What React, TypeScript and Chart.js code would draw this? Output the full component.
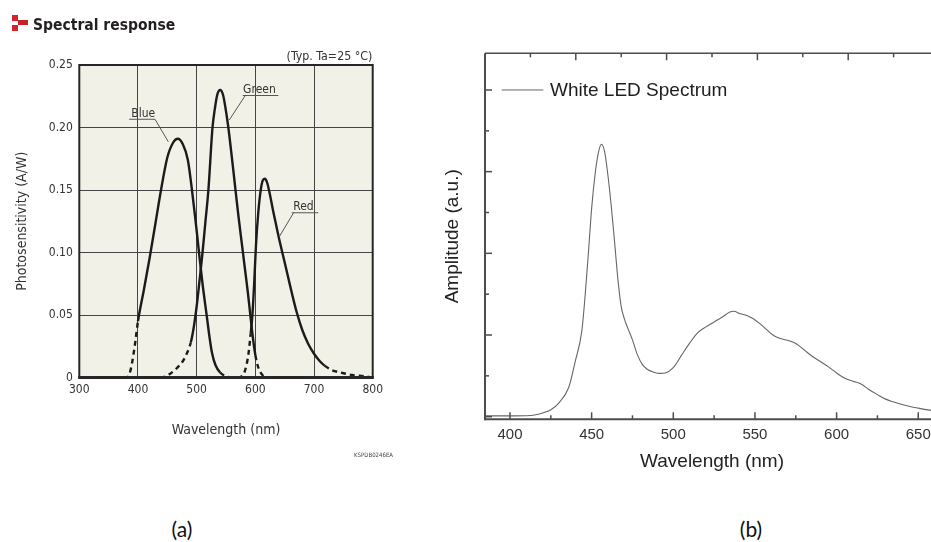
import React, { useEffect, useRef } from "react";
import { Chart, registerables } from "chart.js";

Chart.register(...registerables);

// ---------- (a) photodiode spectral response ----------
const responseWavelengthTicks = [300, 400, 500, 600, 700, 800];
const responseTicks = [0, 0.05, 0.1, 0.15, 0.2, 0.25];

const blueWavelength = [300, 380, 385, 390, 395, 400, 410, 420, 430, 440, 450, 460, 468, 476, 485, 492, 498, 504, 510, 517, 522, 526, 532, 540, 550, 562];
const blueResponse = [0, 0, 0.002, 0.012, 0.027, 0.045, 0.07, 0.096, 0.124, 0.152, 0.176, 0.188, 0.191, 0.187, 0.174, 0.15, 0.126, 0.1, 0.075, 0.05, 0.032, 0.02, 0.01, 0.004, 0.001, 0];
const blueSolidRange = [400, 540];

const greenWavelength = [300, 440, 455, 465, 475, 483, 490, 495, 500, 505, 510, 515, 520, 527, 531, 535, 540, 545, 549, 554, 560, 565, 571, 577, 582, 587, 591, 595, 600, 605, 612, 622];
const greenResponse = [0, 0, 0.003, 0.007, 0.012, 0.019, 0.028, 0.04, 0.057, 0.078, 0.1, 0.125, 0.15, 0.2, 0.215, 0.226, 0.23, 0.226, 0.216, 0.2, 0.176, 0.155, 0.13, 0.107, 0.088, 0.069, 0.052, 0.035, 0.018, 0.008, 0.002, 0];
const greenSolidRange = [490, 600];

const redWavelength = [555, 570, 577, 582, 588, 592, 595, 598, 601, 605, 609.5, 613, 616.5, 620, 625, 630, 635, 640, 648, 656, 663, 670, 680, 690, 700, 710, 718, 730, 745, 765, 785, 800];
const redResponse = [0, 0, 0.001, 0.005, 0.018, 0.035, 0.05, 0.075, 0.105, 0.132, 0.151, 0.158, 0.159, 0.156, 0.146, 0.134, 0.123, 0.112, 0.096, 0.08, 0.066, 0.053, 0.038, 0.027, 0.019, 0.013, 0.0095, 0.006, 0.004, 0.002, 0.001, 0];
const redSolidRange = [592, 718];

// ---------- (b) white LED emission spectrum ----------
const ledWavelengthTicks = [400, 450, 500, 550, 600, 650];
const ledMinorWavelengthTicks = [425, 475, 525, 575, 625];
const ledAmplitudeTicks = [0, 1, 2, 3, 4];
const ledMinorAmplitudeTicks = [0.5, 1.5, 2.5, 3.5];

const ledWavelength = [385, 400, 410, 415, 420, 425, 430, 436, 440, 444, 446, 448, 450, 452, 454, 456, 458, 460, 462, 464, 466, 468, 470, 472, 475, 478, 481, 484, 488, 492, 495, 500, 505, 510, 515, 520, 525, 530, 535, 537, 541, 545, 549, 553, 557, 561, 565, 570, 575, 580, 585, 590, 595, 600, 605, 610, 615, 620, 625, 630, 635, 640, 645, 650, 657, 663];
const ledAmplitude = [0.01, 0.01, 0.012, 0.02, 0.045, 0.085, 0.17, 0.36, 0.68, 1.05, 1.48, 2.0, 2.55, 2.95, 3.22, 3.335, 3.24, 2.95, 2.58, 2.15, 1.7, 1.36, 1.2, 1.09, 0.94, 0.76, 0.64, 0.58, 0.545, 0.53, 0.535, 0.6, 0.75, 0.9, 1.03, 1.1, 1.16, 1.22, 1.285, 1.29, 1.26, 1.24, 1.2, 1.14, 1.07, 1.0, 0.96, 0.935, 0.895, 0.82, 0.74, 0.675, 0.61, 0.535, 0.47, 0.435, 0.4, 0.33, 0.27, 0.215, 0.18, 0.15, 0.125, 0.105, 0.08, 0.062];

const FONT_A = "'DejaVu Sans Condensed', 'DejaVu Sans', sans-serif";
const FONT_B = "'Liberation Sans', Arial, sans-serif";

type Callout = {
  text: string;
  textX: number;
  baseline: number;
  lineFrom: number;
  lineTo: number;
  lineY: number;
  tipX: number;
  tipY: number;
};

// name tags with an underline and a leader line pointing at each curve (data units)
const callouts: Callout[] = [
  { text: "Blue", textX: 409, baseline: 0.2086, lineFrom: 385, lineTo: 429, lineY: 0.2066, tipX: 451.7, tipY: 0.1886 },
  { text: "Green", textX: 607, baseline: 0.2273, lineFrom: 578.6, lineTo: 639.2, lineY: 0.2256, tipX: 555.6, tipY: 0.206 },
  { text: "Red", textX: 682, baseline: 0.134, lineFrom: 662, lineTo: 707.3, lineY: 0.1318, tipX: 640.8, tipY: 0.1126 },
];

const responseSeries = [
  { name: "Blue", x: blueWavelength, y: blueResponse, solid: blueSolidRange },
  { name: "Green", x: greenWavelength, y: greenResponse, solid: greenSolidRange },
  { name: "Red", x: redWavelength, y: redResponse, solid: redSolidRange },
];

const responsePlugin = {
  id: "responseFrame",
  beforeDraw(chart: any) {
    const { ctx, chartArea: a } = chart;
    ctx.save();
    ctx.fillStyle = "#f2f1e8";
    ctx.fillRect(a.left, a.top, a.right - a.left, a.bottom - a.top);
    ctx.restore();
  },
  afterDatasetsDraw(chart: any) {
    const { ctx, chartArea: a, scales } = chart;
    const x = scales.x;
    const y = scales.y;
    ctx.save();
    ctx.strokeStyle = "#262626";
    ctx.lineWidth = 2;
    ctx.strokeRect(a.left, a.top, a.right - a.left, a.bottom - a.top);
    ctx.lineWidth = 3;
    ctx.beginPath();
    ctx.moveTo(a.left - 1, a.bottom);
    ctx.lineTo(a.right + 1, a.bottom);
    ctx.stroke();

    ctx.font = `12px ${FONT_A}`;
    ctx.fillStyle = "#333";
    ctx.textAlign = "center";
    ctx.textBaseline = "alphabetic";
    ctx.strokeStyle = "#555";
    ctx.lineWidth = 1;
    for (const c of callouts) {
      ctx.fillText(c.text, x.getPixelForValue(c.textX), y.getPixelForValue(c.baseline));
      ctx.beginPath();
      ctx.moveTo(x.getPixelForValue(c.lineFrom), y.getPixelForValue(c.lineY));
      ctx.lineTo(x.getPixelForValue(c.lineTo), y.getPixelForValue(c.lineY));
      ctx.stroke();
      const startX = c.tipX > c.lineFrom ? c.lineTo : c.lineFrom + (c.lineTo - c.lineFrom) * 0.07;
      ctx.beginPath();
      ctx.moveTo(x.getPixelForValue(startX), y.getPixelForValue(c.lineY));
      ctx.lineTo(x.getPixelForValue(c.tipX), y.getPixelForValue(c.tipY));
      ctx.stroke();
    }
    ctx.restore();
  },
};

const ledPlugin = {
  id: "ledFrame",
  afterDraw(chart: any) {
    const { ctx, chartArea: a, scales } = chart;
    const x = scales.x;
    const y = scales.y;
    const x2 = scales.x2;
    const y2 = scales.y2;
    ctx.save();
    ctx.strokeStyle = "#4d4d4d";
    const line = (x0: number, y0: number, x1: number, y1: number) => {
      ctx.beginPath();
      ctx.moveTo(x0, y0);
      ctx.lineTo(x1, y1);
      ctx.stroke();
    };
    ctx.lineWidth = 2;
    line(a.left, a.top, a.left, a.bottom + 1);
    line(a.left - 1, a.bottom, a.right, a.bottom);
    ctx.lineWidth = 1.5;
    line(a.left, a.top, a.right, a.top);
    line(a.right, a.top, a.right, a.bottom);

    ctx.lineWidth = 1.5;
    for (const v of ledWavelengthTicks) {
      const px = x.getPixelForValue(v);
      line(px, a.bottom, px, a.bottom - 7);
    }
    for (const v of ledMinorWavelengthTicks) {
      const px = x.getPixelForValue(v);
      line(px, a.bottom, px, a.bottom - 4);
    }
    for (const v of ledAmplitudeTicks) {
      const py = y.getPixelForValue(v);
      line(a.left, py, a.left + 7, py);
    }
    for (const v of ledMinorAmplitudeTicks) {
      const py = y.getPixelForValue(v);
      line(a.left, py, a.left + 4, py);
    }
    for (let v = 0.5; v < 5; v += 0.5) {
      const px = x2.getPixelForValue(v);
      line(px, a.top, px, a.top + (v % 1 === 0 ? 7 : 4));
      const py = y2.getPixelForValue(v);
      line(a.right, py, a.right - (v % 1 === 0 ? 7 : 4), py);
    }

    // legend entry
    const ds = chart.data.datasets[0];
    const ly = y.getPixelForValue(ledAmplitudeTicks[4]);
    ctx.strokeStyle = ds.borderColor;
    ctx.lineWidth = 1;
    line(a.left + 16.7, ly, a.left + 58.3, ly);
    ctx.fillStyle = "#1e1e1e";
    ctx.font = `19px ${FONT_B}`;
    ctx.textAlign = "left";
    ctx.textBaseline = "middle";
    ctx.fillText(ds.label, a.left + 65, ly + 0.5);
    ctx.restore();
  },
};

export default function App() {
  const refA = useRef<HTMLCanvasElement | null>(null);
  const refB = useRef<HTMLCanvasElement | null>(null);

  useEffect(() => {
    if (!refA.current || !refB.current) return;

    const chartA = new Chart(refA.current, {
      type: "line",
      data: {
        datasets: responseSeries.map((s) => ({
          label: s.name,
          data: s.x.map((v, i) => ({ x: v, y: s.y[i] })),
          borderColor: "#1b1b1b",
          borderWidth: 2.4,
          pointRadius: 0,
          cubicInterpolationMode: "monotone" as const,
          clip: false as any,
          segment: {
            borderDash: (ctx: any) =>
              ctx.p0.parsed.x < s.solid[0] - 0.01 || ctx.p1.parsed.x > s.solid[1] + 0.01 ? [5, 4] : undefined,
          },
        })),
      },
      options: {
        responsive: false,
        animation: false,
        events: [],
        layout: { padding: { left: 0, top: 65, right: 67.3, bottom: 41.5 } },
        plugins: { legend: { display: false }, tooltip: { enabled: false } },
        scales: {
          x: {
            type: "linear",
            min: 300,
            max: 800,
            afterBuildTicks: (s: any) => {
              s.ticks = responseWavelengthTicks.map((v) => ({ value: v }));
            },
            afterFit: (s: any) => {
              s.height = 61;
            },
            ticks: { font: { family: FONT_A, size: 12 }, color: "#333", padding: 5, maxRotation: 0 },
            grid: { color: "#454545", lineWidth: 1, drawTicks: false },
            border: { display: false },
            title: { display: true, text: "Wavelength (nm)", font: { family: FONT_A, size: 14 }, color: "#333", padding: 0 },
          },
          y: {
            type: "linear",
            min: 0,
            max: 0.25,
            afterBuildTicks: (s: any) => {
              s.ticks = responseTicks.map((v) => ({ value: v }));
            },
            afterFit: (s: any) => {
              s.width = 79.3;
            },
            ticks: {
              font: { family: FONT_A, size: 12 },
              color: "#333",
              padding: 6.5,
              callback: (v: any) => (Number(v) === 0 ? "0" : Number(v).toFixed(2)),
            },
            grid: { color: "#454545", lineWidth: 1, drawTicks: false },
            border: { display: false },
            title: {
              display: true,
              text: "Photosensitivity (A/W)",
              font: { family: FONT_A, size: 14 },
              color: "#333",
              padding: { top: 13.6, bottom: 0 },
            },
          },
        },
      },
      plugins: [responsePlugin],
    } as any);

    const chartB = new Chart(refB.current, {
      type: "line",
      data: {
        datasets: [
          {
            label: "White LED Spectrum",
            data: ledWavelength.map((v, i) => ({ x: v, y: ledAmplitude[i] })),
            borderColor: "#666666",
            borderWidth: 1.1,
            pointRadius: 0,
            cubicInterpolationMode: "monotone",
          },
        ],
      },
      options: {
        responsive: false,
        animation: false,
        events: [],
        layout: { padding: { left: 0, top: 53.3, right: 21, bottom: 6.7 } },
        plugins: { legend: { display: false }, tooltip: { enabled: false } },
        scales: {
          x: {
            type: "linear",
            min: 384.7,
            max: 662.7,
            afterBuildTicks: (s: any) => {
              s.ticks = ledWavelengthTicks.map((v) => ({ value: v }));
            },
            afterFit: (s: any) => {
              s.height = 54;
            },
            ticks: { font: { family: FONT_B, size: 15 }, color: "#333", padding: 7, maxRotation: 0 },
            grid: { display: false, drawTicks: false },
            border: { display: false },
            title: { display: true, text: "Wavelength (nm)", font: { family: FONT_B, size: 19 }, color: "#222", padding: 0 },
          },
          y: {
            type: "linear",
            min: -0.032,
            max: 4.449,
            afterFit: (s: any) => {
              s.width = 45;
            },
            ticks: { display: false },
            grid: { display: false, drawTicks: false },
            border: { display: false },
            title: {
              display: true,
              text: "Amplitude (a.u.)",
              font: { family: FONT_B, size: 19 },
              color: "#222",
              padding: { top: 1.6, bottom: 0 },
            },
          },
          x2: { type: "linear", position: "top", min: 0, max: 5, display: false },
          y2: { type: "linear", position: "right", min: 0, max: 5, display: false },
        },
      },
      plugins: [ledPlugin],
    } as any);

    return () => {
      chartA.destroy();
      chartB.destroy();
    };
  }, []);

  const abs = (s: React.CSSProperties): React.CSSProperties => ({ position: "absolute", whiteSpace: "nowrap", lineHeight: 1, ...s });

  return (
    <div style={{ position: "fixed", left: 0, top: 0, width: 931, height: 542, overflow: "hidden", background: "#fff" }}>
      <canvas ref={refA} width={440} height={480} style={{ position: "absolute", left: 0, top: 0, width: 440, height: 480 }} />
      <canvas ref={refB} width={520} height={480} style={{ position: "absolute", left: 440, top: 0, width: 520, height: 480 }} />

      <div style={abs({ left: 12.3, top: 15, width: 6, height: 5.7, background: "#d7232b" })} />
      <div style={abs({ left: 12.3, top: 25.2, width: 6, height: 5.8, background: "#d7232b" })} />
      <div style={abs({ left: 18.3, top: 19.8, width: 10, height: 5.2, background: "#c91f26" })} />
      <div style={abs({ left: 33, top: 16, font: `bold 15.5px ${FONT_A}`, color: "#231f20" })}>Spectral response</div>
      <div style={abs({ left: 222, top: 48.6, width: 150.3, textAlign: "right", font: `12.3px ${FONT_A}`, color: "#333" })}>
        (Typ. Ta=25 °C)
      </div>
      <div style={abs({ left: 313, top: 451.4, width: 80, textAlign: "right", font: `6px ${FONT_A}`, color: "#444" })}>
        KSPDB0246EA
      </div>

      <div style={abs({ left: 132, top: 516, width: 100, textAlign: "center", font: `21px Lato, 'Noto Sans', sans-serif`, color: "#111" })}>
        (a)
      </div>
      <div style={abs({ left: 701, top: 516, width: 100, textAlign: "center", font: `21px Lato, 'Noto Sans', sans-serif`, color: "#111" })}>
        (b)
      </div>
    </div>
  );
}
